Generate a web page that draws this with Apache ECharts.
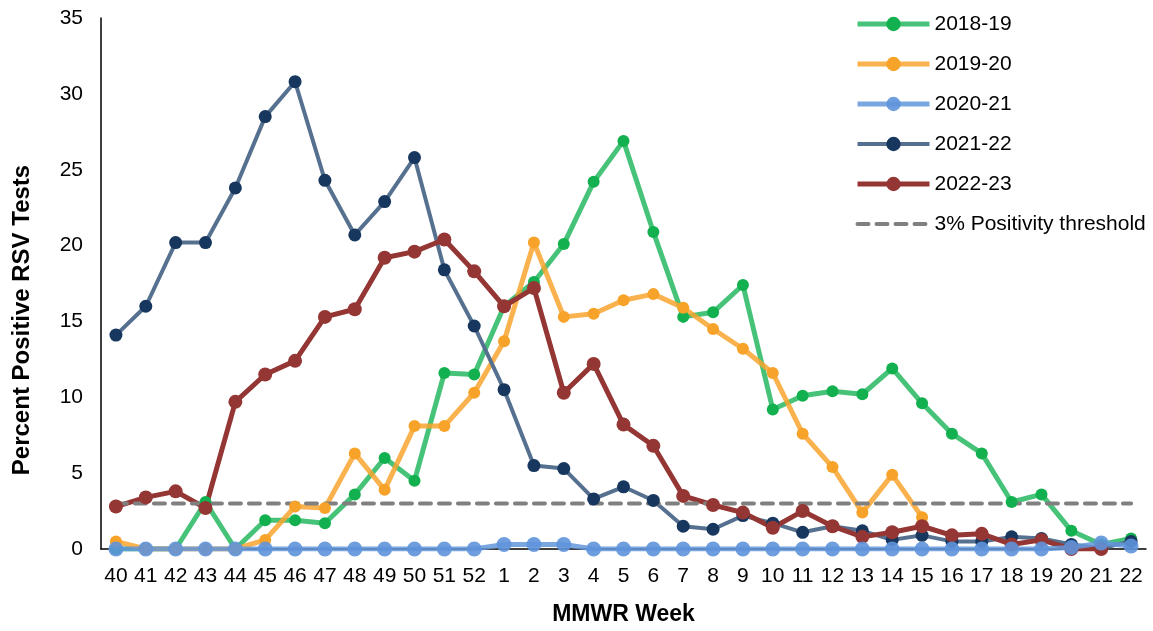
<!DOCTYPE html>
<html>
<head>
<meta charset="utf-8">
<title>Percent Positive RSV Tests by MMWR Week</title>
<script src="https://cdn.jsdelivr.net/npm/echarts@6/dist/echarts.min.js"></script>
<style>
  html, body { margin: 0; padding: 0; background: #fff; }
  #chart { width: 1153px; height: 631px; }
</style>
</head>
<body>
<div id="chart"></div>
<script>
// MMWR weeks, season runs from week 40 through week 22
const weeks = ['40','41','42','43','44','45','46','47','48','49','50','51','52',
  '1','2','3','4','5','6','7','8','9','10','11','12','13','14','15','16','17','18','19','20','21','22'];

const season2018 = [0, 0, 0, 3.1, 0, 1.9, 1.9, 1.7, 3.6, 6.0, 4.5, 11.6, 11.5,
  16.0, 17.6, 20.1, 24.2, 26.9, 20.9, 15.3, 15.6, 17.4, 9.2, 10.1, 10.4, 10.2, 11.9, 9.6, 7.6, 6.3, 3.1, 3.6, 1.2, 0.3, 0.7];

const season2019 = [0.5, 0, 0, 0, 0, 0.6, 2.8, 2.7, 6.3, 3.9, 8.1, 8.1, 10.3,
  13.7, 20.2, 15.3, 15.5, 16.4, 16.8, 15.9, 14.5, 13.2, 11.6, 7.6, 5.4, 2.4, 4.9, 2.1, null, null, null, null, null, null, null];

const season2020 = [0, 0, 0, 0, 0, 0, 0, 0, 0, 0, 0, 0, 0,
  0.3, 0.3, 0.3, 0, 0, 0, 0, 0, 0, 0, 0, 0, 0, 0, 0, 0, 0, 0, 0, 0.1, 0.4, 0.2];

const season2021 = [14.1, 16.0, 20.2, 20.2, 23.8, 28.5, 30.8, 24.3, 20.7, 22.9, 25.8, 18.4, 14.7,
  10.5, 5.5, 5.3, 3.3, 4.1, 3.2, 1.5, 1.3, 2.2, 1.7, 1.1, 1.5, 1.2, 0.6, 0.9, 0.5, 0.5, 0.8, 0.7, 0.3, 0.05, 0.5];

const season2022 = [2.8, 3.4, 3.8, 2.7, 9.7, 11.5, 12.4, 15.3, 15.8, 19.2, 19.6, 20.4, 18.3,
  16.0, 17.2, 10.3, 12.2, 8.2, 6.8, 3.5, 2.9, 2.4, 1.4, 2.5, 1.5, 0.8, 1.1, 1.5, 0.9, 1.0, 0.3, 0.6, 0, 0, null];

const thresholdValue = 3;
const threshold = weeks.map(() => thresholdValue);

const yTicks = { min: 0, max: 35, interval: 5 };

const FONT = "'Liberation Sans', Arial, sans-serif";

function seasonSeries(name, data, lineColor, dotColor, width, size) {
  return {
    name: name,
    type: 'line',
    data: data,
    symbol: 'circle',
    symbolSize: size,
    connectNulls: false,
    lineStyle: { color: lineColor, width: width },
    itemStyle: { color: dotColor, borderWidth: 0 },
    emphasis: { disabled: true },
    animation: false
  };
}

const chart = echarts.init(document.getElementById('chart'), null, { renderer: 'canvas' });

chart.setOption({
  backgroundColor: '#ffffff',
  textStyle: { fontFamily: FONT },
  grid: { left: 101, right: 7, top: 18, bottom: 80 },
  legend: {
    orient: 'vertical',
    left: 850,
    top: 8,
    itemWidth: 72,
    itemHeight: 18,
    itemGap: 18,
    selectedMode: false,
    lineStyle: { width: 'inherit' },
    textStyle: { fontFamily: FONT, fontSize: 21, color: '#000', lineHeight: 22 },
    data: ['2018-19', '2019-20', '2020-21', '2021-22', '2022-23',
      { name: '3% Positivity threshold', itemStyle: { opacity: 0 } }]
  },
  xAxis: {
    type: 'category',
    data: weeks,
    boundaryGap: true,
    axisLine: { show: true, lineStyle: { color: '#000', width: 1.5 } },
    axisTick: { show: false },
    splitLine: { show: false },
    axisLabel: { interval: 0, color: '#000', fontSize: 21, margin: 17, fontFamily: FONT },
    name: 'MMWR Week',
    nameLocation: 'middle',
    nameGap: 54,
    nameTextStyle: { color: '#000', fontSize: 23, fontWeight: 'bold', fontFamily: FONT }
  },
  yAxis: {
    type: 'value',
    min: yTicks.min,
    max: yTicks.max,
    interval: yTicks.interval,
    axisLine: { show: true, lineStyle: { color: '#000', width: 1.5 } },
    axisTick: { show: false },
    splitLine: { show: false },
    axisLabel: { color: '#000', fontSize: 21, margin: 18, fontFamily: FONT }
  },
  graphic: [{
    type: 'text',
    x: 22,
    y: 320,
    rotation: Math.PI / 2,
    style: {
      text: 'Percent Positive RSV Tests',
      fill: '#000',
      font: 'bold 24px ' + FONT,
      textAlign: 'center',
      textVerticalAlign: 'middle'
    }
  }],
  series: [
    seasonSeries('2018-19', season2018, 'rgba(38,184,98,0.85)', '#12b04f', 5, 12),
    seasonSeries('2019-20', season2019, 'rgba(248,165,46,0.85)', '#f7a229', 5, 12),
    seasonSeries('2021-22', season2021, '#56708f', '#17375e', 4, 13),
    seasonSeries('2022-23', season2022, '#943634', '#943634', 5, 14),
    seasonSeries('2020-21', season2020, 'rgba(100,152,220,0.85)', 'rgba(95,148,220,0.9)', 5, 15),
    {
      name: '3% Positivity threshold',
      type: 'line',
      data: threshold,
      symbol: 'none',
      lineStyle: { color: '#808080', width: 4, type: [11, 8], cap: 'round' },
      itemStyle: { color: '#808080' },
      emphasis: { disabled: true },
      animation: false
    }
  ]
});
</script>
</body>
</html>
